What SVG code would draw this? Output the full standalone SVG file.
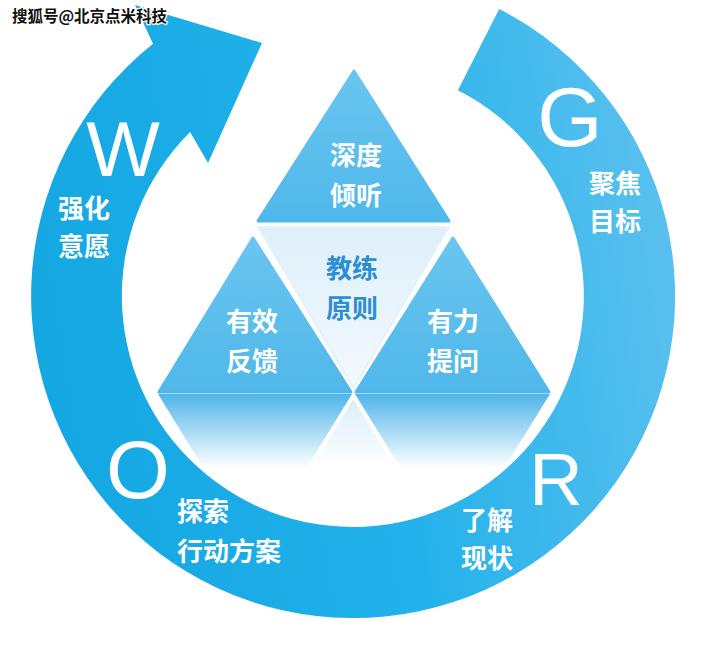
<svg xmlns="http://www.w3.org/2000/svg" width="707" height="655" viewBox="0 0 707 655">
  <defs>
    <linearGradient id="ringGrad" gradientUnits="userSpaceOnUse" x1="40" y1="300" x2="680" y2="200">
      <stop offset="0" stop-color="#14A7E2"/>
      <stop offset="0.5" stop-color="#22B1EB"/>
      <stop offset="1" stop-color="#5CC1EE"/>
    </linearGradient>
    <linearGradient id="triGrad" x1="0" y1="0" x2="0" y2="1">
      <stop offset="0" stop-color="#6AC5F0"/>
      <stop offset="1" stop-color="#4FB8EA"/>
    </linearGradient>
    <linearGradient id="paleGrad" x1="0" y1="0" x2="0" y2="1">
      <stop offset="0" stop-color="#DDEFFA"/>
      <stop offset="1" stop-color="#F4FAFE"/>
    </linearGradient>
    <linearGradient id="fadeGrad" gradientUnits="userSpaceOnUse" x1="0" y1="393" x2="0" y2="468">
      <stop offset="0" stop-color="#fff" stop-opacity="1"/>
      <stop offset="0.15" stop-color="#fff" stop-opacity="0.85"/>
      <stop offset="1" stop-color="#fff" stop-opacity="0"/>
    </linearGradient>
    <mask id="fadeMask" maskUnits="userSpaceOnUse" x="0" y="380" width="707" height="120">
      <rect x="0" y="380" width="707" height="120" fill="url(#fadeGrad)"/>
    </mask>
    <style>
      .cjk { font-family: "Noto Sans CJK SC", "Noto Sans", sans-serif; font-weight: 700; font-size: 26px; fill: #ffffff; text-anchor: middle; }
      .cjk.dark { fill: #2E8ED3; }
      .cjk.start { text-anchor: start; }
      .big { font-family: "Liberation Sans", Arial, sans-serif; font-weight: 400; fill: #ffffff; text-anchor: middle; }
      .tri { fill: url(#triGrad); stroke: url(#triGrad); stroke-width: 3; stroke-linejoin: round; }
      .wm { font-family: "Noto Sans CJK SC", sans-serif; font-weight: 700; font-size: 15.5px; fill: #111; stroke: #fff; stroke-width: 2.5; paint-order: stroke; stroke-linejoin: round; }
    </style>
  </defs>

  <rect x="0" y="0" width="707" height="655" fill="#ffffff"/>

  <g id="connectors">
    <path id="cycle-arrow" fill="url(#ringGrad)" d="M 499.2 9.1 A 322 322 0 1 1 153 43.8 L 135 5 L 262 43 L 208 163 L 190.1 132 A 231 231 0 1 0 457.9 90.2 Z"/>
  </g>

  <g id="reflection" mask="url(#fadeMask)">
    <polygon points="158,394 352,394 255,552" fill="#4DB5E8"/>
    <polygon points="355,394 550,394 452,552" fill="#4DB5E8"/>
    <polygon points="353.5,399 258,556 449,556" fill="#D6EDFA"/>
  </g>

  <g id="node-center">
    <polygon points="258,227 449,227 353.5,388" fill="url(#paleGrad)" stroke="#E3F2FB" stroke-width="2" stroke-linejoin="round"/>
    <text class="cjk dark" x="352" y="278">教练</text>
    <text class="cjk dark" x="352" y="318">原则</text>
  </g>

  <g id="node-listen">
    <polygon class="tri" points="354,71 449,221 258,221"/>
    <text class="cjk" x="356" y="165">深度</text>
    <text class="cjk" x="356" y="205">倾听</text>
  </g>

  <g id="node-feedback">
    <polygon class="tri" points="253,238 351,392 159,392"/>
    <text class="cjk" x="252" y="331">有效</text>
    <text class="cjk" x="252" y="371">反馈</text>
  </g>

  <g id="node-question">
    <polygon class="tri" points="453,238 549,392 356,392"/>
    <text class="cjk" x="453" y="331">有力</text>
    <text class="cjk" x="453" y="371">提问</text>
  </g>

  <g id="node-G">
    <text class="big" x="570" y="146" font-size="84">G</text>
    <text class="cjk" x="615" y="193" font-size="25">聚焦</text>
    <text class="cjk" x="615" y="231" font-size="25">目标</text>
  </g>

  <g id="node-R">
    <text class="big" x="556" y="505" font-size="74">R</text>
    <text class="cjk" x="487" y="530" font-size="25">了解</text>
    <text class="cjk" x="487" y="568" font-size="25">现状</text>
  </g>

  <g id="node-O">
    <text class="big" x="138" y="498" font-size="82">O</text>
    <text class="cjk start" x="177" y="521" font-size="25">探索</text>
    <text class="cjk start" x="177" y="561" font-size="25">行动方案</text>
  </g>

  <g id="node-W">
    <text class="big" x="123" y="176" font-size="78">W</text>
    <text class="cjk" x="84" y="218" font-size="25">强化</text>
    <text class="cjk" x="84" y="256" font-size="25">意愿</text>
  </g>

  <text class="wm" x="12" y="22">搜狐号@北京点米科技</text>
</svg>
